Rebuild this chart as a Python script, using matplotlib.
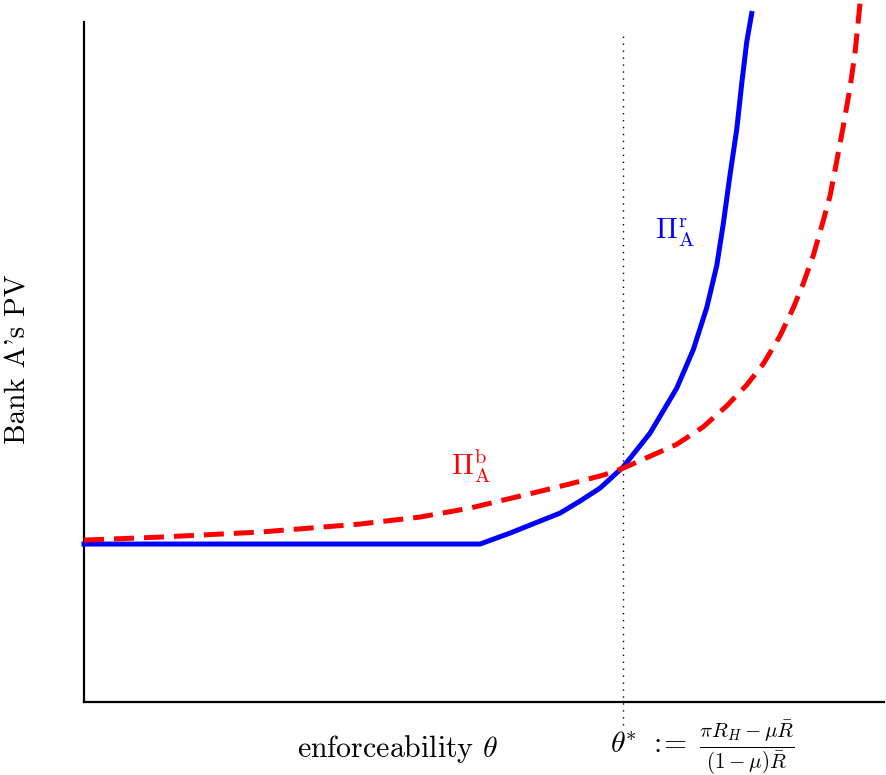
import numpy as np
import matplotlib
matplotlib.use("Agg")
import matplotlib.pyplot as plt

plt.rcParams['mathtext.fontset'] = 'cm'
plt.rcParams['axes.formatter.use_mathtext'] = True

# pontos (theta em 0..10, PV em 0..10)
theta_r = [0.0, 4.95, 5.325, 5.575, 5.95, 6.2, 6.45, 6.7375, 7.075, 7.409, 7.616,
           7.784, 7.909, 7.991, 8.075, 8.159, 8.221, 8.284, 8.346]
pv_r = [2.324, 2.324, 2.485, 2.603, 2.779, 2.956, 3.147, 3.456, 3.956, 4.618,
        5.185, 5.803, 6.421, 7.038, 7.759, 8.428, 9.097, 9.715, 10.13]

theta_b = [0.0, 0.95, 2.2, 3.45, 4.2, 4.825, 5.241, 5.659, 6.075, 6.491, 6.741, 7.116,
           7.409, 7.741, 8.034, 8.284, 8.491, 8.7, 8.866, 8.991, 9.116, 9.241, 9.325,
           9.409, 9.491, 9.575, 9.6375, 9.7]
pv_b = [2.382, 2.426, 2.5, 2.618, 2.721, 2.853, 2.971, 3.088, 3.209, 3.338, 3.441, 3.637,
        3.791, 4.049, 4.357, 4.666, 4.975, 5.387, 5.799, 6.159, 6.571, 7.085, 7.446,
        7.96, 8.475, 9.041, 9.556, 10.28]

theta_star = 6.74

fig = plt.figure(figsize=(8.86, 7.75), dpi=100)
ax = fig.add_axes([0.0948, 0.0942, 0.903, 0.877])

ax.plot(theta_r, pv_r, color='blue', lw=3.6, clip_on=False, zorder=3,
        solid_joinstyle='round')
ax.plot(theta_b, pv_b, color='red', lw=3.6, linestyle=(0, (4.0, 2.0)), clip_on=False, zorder=4)
ax.plot([theta_star, theta_star], [-0.34, 9.87], color='black', lw=1.0,
        linestyle=(0, (1, 4)), clip_on=False, zorder=2)

ax.set_xlim(0, 10)
ax.set_ylim(0, 10)
ax.set_xticks([])
ax.set_yticks([])
ax.spines['top'].set_visible(False)
ax.spines['right'].set_visible(False)
ax.spines['left'].set_linewidth(1.6)
ax.spines['bottom'].set_linewidth(1.6)

ax.text(7.38, 6.9, r'$\Pi^{\rm r}_{\rm A}$', color='blue', fontsize=21, ha='center', va='center')
ax.text(4.84, 3.47, r'$\Pi^{\rm b}_{\rm A}$', color='red', fontsize=21, ha='center', va='center')

fig.text(0.449, 0.034, r'enforceability $\theta$', fontfamily='cmr10', fontsize=21.5, ha='center', va='center')
fig.text(0.689, 0.036, r'$\theta^{\!\!*}\;{:}\!\!=\;\frac{\pi R_H - \mu\bar{R}}{(1-\mu)\bar{R}}$',
         fontsize=21.5, ha='left', va='center')
fig.text(0.021, 0.536, "Bank A's PV", fontfamily='cmr10', fontsize=21, rotation=90, ha='center', va='center')

fig.savefig('out.png', dpi=100)
